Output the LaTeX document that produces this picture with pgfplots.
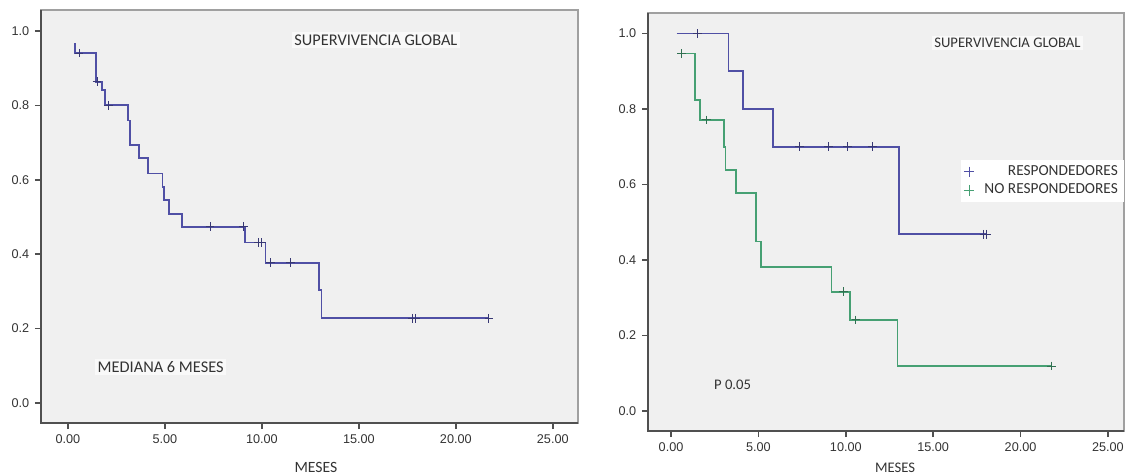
\documentclass[border=0pt]{standalone}
\usepackage{fontspec}
\setmainfont{Carlito}
\newfontfamily\tickfont{Liberation Sans}
\usepackage{pgfplots}
\pgfplotsset{compat=1.18}

\definecolor{bgplot}{HTML}{F0F0F0}
\definecolor{kmblue}{RGB}{80,80,165}
\definecolor{kmgreen}{RGB}{70,160,115}
\definecolor{framegray}{HTML}{A0A0A0}
\definecolor{axisdark}{HTML}{505050}
\definecolor{txt}{HTML}{333333}

\pgfplotsset{km/.style={
  scale only axis,
  axis background/.style={fill=bgplot},
  axis line style={framegray, line width=0.8pt},
  tick align=outside,
  major tick length=3.6pt,
  tick style={axisdark, line width=0.9pt},
  xtick pos=bottom, ytick pos=left,
  ytick={0,0.2,0.4,0.6,0.8,1},
  xtick={0,5,10,15,20,25},
  y tick label style={/pgf/number format/.cd, fixed, fixed zerofill, precision=1, /tikz/.cd},
  x tick label style={/pgf/number format/.cd, fixed, fixed zerofill, precision=2, /tikz/.cd},
  /pgf/number format/assume math mode=true,
  tick label style={font=\tickfont\fontsize{7.6}{9}\selectfont, text=txt},
  label style={font=\fontsize{9.4}{11}\selectfont, text=txt},
  clip=false,
}}

\begin{document}
\begin{tikzpicture}
\useasboundingbox (0,0) rectangle (675pt,285pt);

% ---------------- Left panel ----------------
\begin{axis}[km,
  at={(24.6pt,31.2pt)}, anchor=south west,
  width=322.2pt, height=247.8pt,
  xmin=-1.39, xmax=26.3, ymin=-0.054, ymax=1.057,
  xlabel={MESES},
  xlabel style={at={(axis description cs:0.512,-0.1065)}, anchor=center},
]
\addplot[kmblue, line width=1pt, const plot, forget plot] coordinates {
(0.36,0.968) (0.36,0.941) (1.43,0.864) (1.77,0.841) (1.91,0.801)
(3.08,0.760) (3.20,0.693) (3.68,0.658) (4.12,0.617) (4.87,0.581)
(4.95,0.546) (5.22,0.508) (5.87,0.474) (9.14,0.432) (10.18,0.377)
(12.93,0.304) (13.07,0.228) (21.71,0.228)};
\addplot[kmblue!70!black, only marks, mark=+, mark size=2.6pt, line width=0.6pt, forget plot] coordinates {
(0.57,0.941) (1.50,0.864) (2.08,0.801) (7.33,0.474) (9.05,0.474)
(9.83,0.432) (10.00,0.432) (10.43,0.377) (11.47,0.377)
(17.75,0.228) (17.92,0.228) (21.71,0.228)};
\draw[axisdark, line width=1.2pt] (rel axis cs:0,1) -- (rel axis cs:0,0) -- (rel axis cs:1,0);
\node[font=\fontsize{9.8}{11}\selectfont, text=txt, fill=white!60!bgplot, inner sep=1.5pt] at (axis cs:15.88,0.976) {SUPERVIVENCIA GLOBAL};
\node[font=\fontsize{9.8}{11}\selectfont, text=txt, fill=white!60!bgplot, inner sep=1.5pt] at (axis cs:4.78,0.097) {MEDIANA 6 MESES};
\end{axis}

% ---------------- Right panel ----------------
\begin{axis}[km,
  at={(388.8pt,26.4pt)}, anchor=south west,
  width=285.6pt, height=250.8pt,
  xmin=-1.32, xmax=25.92, ymin=-0.053, ymax=1.054,
  xlabel={MESES},
  xlabel style={at={(axis description cs:0.519,-0.0885)}, anchor=center, font=\fontsize{8.8}{10}\selectfont},
  legend style={at={(1,0.598)}, anchor=east, draw=none, fill=white,
    font=\fontsize{9.2}{9.2}\selectfont, text=txt, inner sep=1.5pt, row sep=-0.5pt,
    /tikz/every odd column/.append style={column sep=4pt}},
  legend cell align=right,
]
\addlegendimage{kmblue, only marks, mark=+, mark size=3.2pt, line width=0.6pt}
\addlegendentry{RESPONDEDORES}
\addlegendimage{kmgreen, only marks, mark=+, mark size=3.2pt, line width=0.6pt}
\addlegendentry{NO RESPONDEDORES}
\addplot[kmblue, line width=1pt, const plot, forget plot] coordinates {
(0.32,1.0) (3.28,0.90) (4.10,0.80) (5.85,0.70) (13.06,0.468) (18.06,0.468)};
\addplot[kmblue!70!black, only marks, mark=+, mark size=2.6pt, line width=0.6pt, forget plot] coordinates {
(1.53,1.0) (7.34,0.70) (9.00,0.70) (10.10,0.70) (11.54,0.70) (17.90,0.468) (18.06,0.468)};
\addplot[kmgreen, line width=1pt, const plot, forget plot] coordinates {
(0.42,0.947) (1.37,0.824) (1.66,0.771) (3.03,0.700) (3.12,0.638)
(3.72,0.577) (4.86,0.449) (5.13,0.382) (9.19,0.316) (10.24,0.241)
(12.95,0.119) (21.78,0.119)};
\addplot[kmgreen!70!black, only marks, mark=+, mark size=2.6pt, line width=0.6pt, forget plot] coordinates {
(0.61,0.947) (2.04,0.771) (9.86,0.316) (10.58,0.241) (21.78,0.119)};
\draw[axisdark, line width=1.2pt] (rel axis cs:0,1) -- (rel axis cs:0,0) -- (rel axis cs:1,0);
\node[font=\fontsize{8.8}{10}\selectfont, text=txt, fill=white!60!bgplot, inner sep=1.5pt] at (axis cs:19.25,0.975) {SUPERVIVENCIA GLOBAL};
\node[font=\fontsize{8.8}{10}\selectfont, text=txt] at (axis cs:3.52,0.069) {P 0.05};
\end{axis}
\end{tikzpicture}
\end{document}
